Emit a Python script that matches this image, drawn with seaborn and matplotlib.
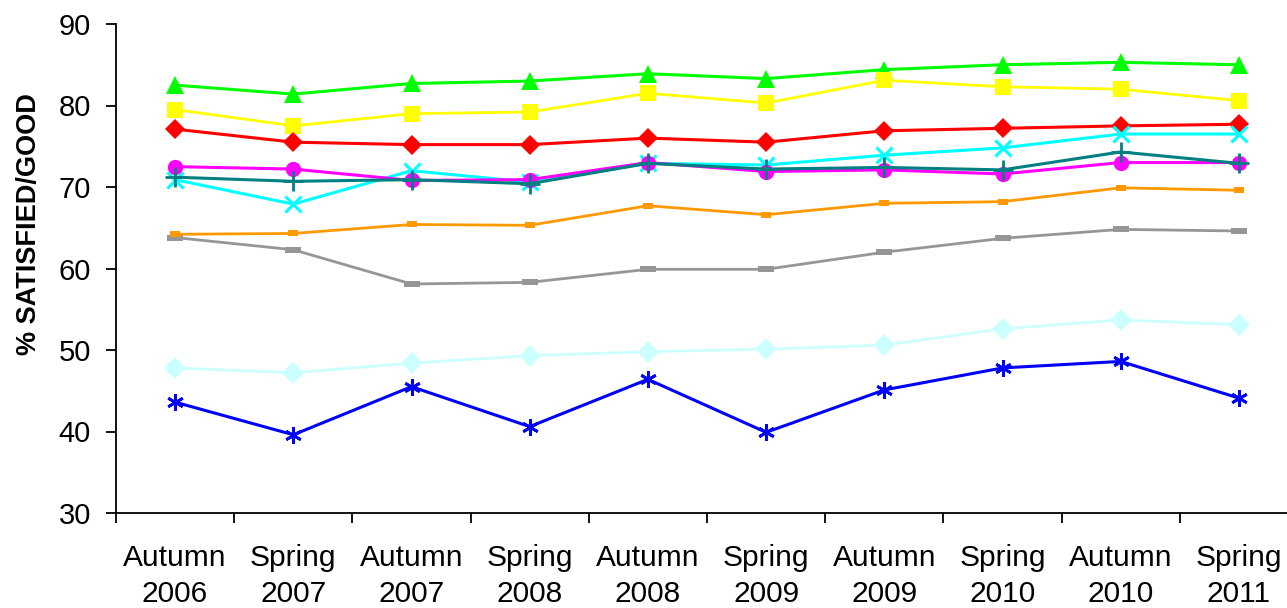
import pandas as pd
import matplotlib.pyplot as plt
from matplotlib.ticker import FixedLocator
import seaborn as sns

# survey waves
waves = ['Autumn\n2006', 'Spring\n2007', 'Autumn\n2007', 'Spring\n2008', 'Autumn\n2008',
         'Spring\n2009', 'Autumn\n2009', 'Spring\n2010', 'Autumn\n2010', 'Spring\n2011']

# % satisfied/good per series
green = [82.5, 81.4, 82.7, 83.0, 83.9, 83.3, 84.4, 85.0, 85.3, 85.0]
yellow = [79.5, 77.5, 79.0, 79.2, 81.5, 80.3, 83.1, 82.3, 82.0, 80.6]
red = [77.1, 75.5, 75.2, 75.2, 76.0, 75.5, 76.9, 77.2, 77.5, 77.7]
magenta = [72.5, 72.2, 70.8, 70.9, 73.0, 71.9, 72.1, 71.6, 73.0, 73.0]
cyan = [70.9, 67.9, 72.0, 70.6, 72.9, 72.7, 73.9, 74.8, 76.5, 76.5]
teal = [71.2, 70.7, 70.9, 70.4, 72.9, 72.2, 72.4, 72.1, 74.3, 72.9]
orange = [64.2, 64.3, 65.4, 65.3, 67.7, 66.6, 68.0, 68.2, 69.9, 69.6]
gray = [63.8, 62.3, 58.1, 58.3, 59.9, 59.9, 62.0, 63.7, 64.8, 64.6]
paleblue = [47.8, 47.2, 48.4, 49.3, 49.8, 50.1, 50.6, 52.6, 53.7, 53.1]
blue = [43.6, 39.6, 45.5, 40.6, 46.4, 39.9, 45.1, 47.8, 48.6, 44.1]

# small flat bar markers used for two series
flat_small = [(-1, -0.6), (1, -0.6), (1, 0.6), (-1, 0.6), (-1, -0.6)]
flat_wide = [(-1, -0.35), (1, -0.35), (1, 0.35), (-1, 0.35), (-1, -0.35)]

# (values, colour, marker, markersize, linewidth, marker edge width)
series = [
    (gray, '#969696', flat_wide, 11, 2.0, 0),
    (orange, '#FF9900', flat_small, 7, 2.0, 0),
    (paleblue, '#CCFFFF', 'D', 11, 2.0, 0),
    (blue, '#0000FF', (6, 2, 0), 12, 2.2, 2.0),
    (green, '#00FF00', '^', 13, 2.2, 0),
    (yellow, '#FFFF00', 's', 11, 2.0, 0),
    (red, '#FF0000', 'D', 10, 2.2, 0),
    (cyan, '#00FFFF', 'x', 12, 2.2, 2.2),
    (magenta, '#FF00FF', 'o', 11, 2.2, 0),
    (teal, '#008080', '+', 14, 2.2, 2.0),
]

sns.set_style('white')
plt.rcParams['font.family'] = ['Liberation Sans', 'DejaVu Sans']
plt.rcParams['text.color'] = 'black'
plt.rcParams['axes.labelcolor'] = 'black'
plt.rcParams['xtick.color'] = 'black'
plt.rcParams['ytick.color'] = 'black'

fig = plt.figure(figsize=(12.87, 6.08), dpi=100)
ax = fig.add_axes([116 / 1287, 1 - 513 / 608, 1182 / 1287, 489 / 608])

x = list(range(len(waves)))
for vals, col, mk, ms, lw, mew in series:
    df = pd.DataFrame({'wave': x, 'pct': vals})
    sns.lineplot(data=df, x='wave', y='pct', ax=ax, color=col, linewidth=lw,
                 marker=mk, markersize=ms, markeredgewidth=mew,
                 markeredgecolor=col, markerfacecolor=col, clip_on=False)

ax.set_xlim(-0.5, len(waves) - 0.5)
ax.set_ylim(30, 90)
ax.set_yticks(range(30, 91, 10))

# tick marks between categories, labels under each category
ax.xaxis.set_major_locator(FixedLocator([i - 0.5 for i in range(len(waves) + 1)]))
ax.set_xticklabels([''] * (len(waves) + 1))
ax.xaxis.set_minor_locator(FixedLocator(x))
ax.set_xticklabels(waves, minor=True, fontsize=21.5, linespacing=1.4)
ax.tick_params(axis='x', which='minor', bottom=True, length=0, pad=22)
ax.tick_params(axis='x', which='major', bottom=True, direction='out', length=7,
               width=1.3, color='black')
ax.tick_params(axis='y', left=True, direction='out', length=7, width=1.3, color='black',
               labelsize=21, pad=11)

for side in ['top', 'right']:
    ax.spines[side].set_visible(False)
for side in ['left', 'bottom']:
    ax.spines[side].set_color('black')
    ax.spines[side].set_linewidth(1.3)

ax.set_xlabel('')
ax.set_ylabel('% SATISFIED/GOOD', fontsize=19.5, fontweight='bold')
ax.yaxis.set_label_coords(-0.063, 0.591)
ax.grid(False)

plt.savefig('out.png', dpi=100)
